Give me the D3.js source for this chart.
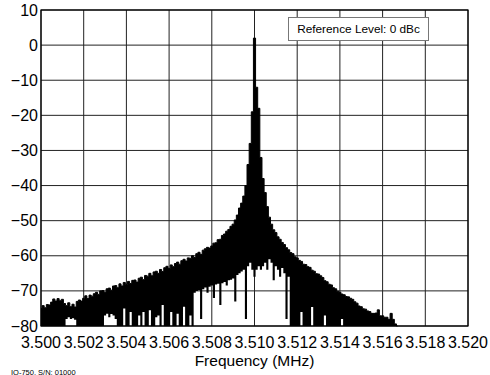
<!DOCTYPE html>
<html>
<head>
<meta charset="utf-8">
<script src="https://cdn.jsdelivr.net/npm/d3@7"></script>
<style>
  html, body { margin: 0; padding: 0; background: #fff; }
  svg { display: block; }
  text { font-family: "Liberation Sans", Arial, Helvetica, sans-serif; fill: #000; }
</style>
</head>
<body>
<svg id="chart" width="490" height="375"></svg>
<script>
// ---- data ----
const xTicks = [3.500, 3.502, 3.504, 3.506, 3.508, 3.510, 3.512, 3.514, 3.516, 3.518, 3.520];
const yTicks = [10, 0, -10, -20, -30, -40, -50, -60, -70, -80];
const freqStart = 3.5000;   // MHz, first sample
const freqStep = 0.0001;    // MHz between samples
// upper edge of the trace at each sample (dBc)
const traceTop = [
  -75.0,-74.2,-74.8,-73.9,-74.0,-73.2,-72.3,-72.9,-72.2,-72.8,-72.4,-73.6,-74.2,-73.4,-74.5,-73.8,-74.6,-73.0,-72.6,-72.9,
  -72.1,-71.4,-72.2,-71.2,-71.5,-70.8,-70.4,-71.0,-70.0,-69.9,-70.4,-69.4,-69.2,-69.8,-68.6,-68.5,-69.1,-68.0,-68.6,-67.6,
  -68.1,-67.3,-67.9,-67.0,-66.9,-67.5,-66.4,-66.1,-66.8,-65.6,-65.8,-65.0,-65.7,-64.6,-64.4,-65.0,-63.9,-64.5,-63.4,-63.0,
  -63.6,-62.6,-63.1,-62.2,-61.8,-62.4,-61.4,-61.0,-61.5,-60.6,-60.7,-60.0,-60.5,-59.4,-59.0,-59.6,-58.4,-58.0,-57.6,-57.8,
  -57.2,-56.4,-56.3,-55.4,-55.3,-54.2,-53.8,-53.0,-52.5,-51.6,-51.0,-49.8,-48.4,-46.4,-45.0,-43.0,-40.0,-34.0,-28.0,-19.0,
  2.0,-12.0,-18.0,-32.0,-38.0,-42.0,-46.0,-49.0,-51.0,-52.6,-53.4,-54.6,-55.3,-56.2,-56.8,-57.7,-58.3,-59.1,-59.4,-60.3,
  -60.6,-61.3,-61.6,-62.4,-62.5,-63.1,-63.3,-64.1,-64.4,-65.1,-65.2,-65.7,-66.2,-67.1,-67.4,-68.1,-68.3,-69.1,-69.4,-70.1,
  -70.4,-70.9,-71.1,-71.6,-71.7,-72.1,-72.4,-73.1,-73.5,-74.3,-74.5,-75.1,-75.2,-75.7,-75.9,-76.4,-76.4,-76.3,-75.4,-77.1,
  -77.1,-77.5,-77.5,-78.1,-76.4,-78.1,-79.4,-80.0
];
// lower edge of the trace at each sample (dBc)
const traceBottom = [
  -80,-80,-80,-80,-80,-80,-80,-80,-80,-80,-80,-80,-78,-77.5,-78,-77.8,-78.2,-80,-80,-80,
  -80,-80,-80,-80,-80,-80,-80,-80,-80,-80,-77,-76.5,-77.5,-76.6,-77,-78,-80,-80,-80,-75,
  -80,-80,-76,-80,-80,-80,-77,-80,-76,-80,-80,-75.5,-80,-80,-77.5,-77,-80,-74,-80,-80,
  -80,-76,-80,-80,-76.5,-80,-80,-74.5,-80,-80,-77,-80,-70.5,-70,-69.8,-78,-69.5,-69,-70.5,-68.8,
  -68.5,-72,-68.2,-68,-74,-67.8,-67.5,-68.5,-67,-66.8,-66.5,-73,-65.5,-65,-64.5,-64,-78,-63,-62,-64,
  -66,-64,-63,-64,-63,-62,-64,-61,-62,-67,-63,-64,-66,-63.5,-65,-78,-66,-80,-80,-80,
  -80,-80,-76,-80,-80,-80,-80,-74.6,-80,-80,-80,-80,-80,-77,-80,-80,-80,-80,-80,-80,
  -80,-78,-80,-80,-80,-80,-80,-80,-80,-80,-80,-80,-80,-80,-80,-80,-80,-80,-80,-80,
  -80,-80,-80,-80,-80,-80,-80,-80
];
const xLabel = "Frequency (MHz)";
const legendText = "Reference Level: 0 dBc";
const footerText = "IQ-750, S/N: 01000";

// ---- layout ----
const svg = d3.select("#chart");
const L = 41, R = 468, T = 10, B = 326;
const x = d3.scaleLinear().domain([3.500, 3.520]).range([L, R]);
const y = d3.scaleLinear().domain([-80, 10]).range([B, T]);

svg.append("rect").attr("width", 490).attr("height", 375).attr("fill", "#fff");

// grid
const grid = svg.append("g");
grid.selectAll("line.v").data(xTicks).join("line")
  .attr("x1", d => x(d)).attr("x2", d => x(d)).attr("y1", T).attr("y2", B)
  .attr("stroke", "#222").attr("stroke-width", 1);
grid.selectAll("line.h").data(yTicks).join("line")
  .attr("x1", L).attr("x2", R).attr("y1", d => y(d)).attr("y2", d => y(d))
  .attr("stroke", "#222").attr("stroke-width", 1);

// trace
const samples = traceTop.map((t, i) => ({ f: freqStart + i * freqStep, top: t, bot: traceBottom[i] }));
const area = d3.area()
  .x(d => x(d.f)).y0(d => y(d.bot)).y1(d => y(d.top))
  .curve(d3.curveStep);
svg.append("path").datum(samples).attr("d", area).attr("fill", "#000");
const topLine = d3.line().x(d => x(d.f)).y(d => y(d.top)).curve(d3.curveStep);
svg.append("path").datum(samples).attr("d", topLine)
  .attr("fill", "none").attr("stroke", "#000").attr("stroke-width", 1);

// frame
svg.append("rect").attr("x", L).attr("y", T).attr("width", R - L).attr("height", B - T)
  .attr("fill", "none").attr("stroke", "#000").attr("stroke-width", 1.2);

// axes labels
const fmtY = d3.format("d");
svg.append("g").selectAll("text").data(yTicks).join("text")
  .attr("x", L - 3).attr("y", d => y(d) + 5.5)
  .attr("text-anchor", "end").attr("font-size", 16)
  .text(d => fmtY(d));
svg.append("g").selectAll("text").data(xTicks).join("text")
  .attr("x", d => x(d)).attr("y", 348)
  .attr("text-anchor", "middle").attr("font-size", 16)
  .text(d => d3.format(".3f")(d));
svg.append("text").attr("x", (L + R) / 2).attr("y", 366)
  .attr("text-anchor", "middle").attr("font-size", 15.5).text(xLabel);

// legend box
svg.append("rect").attr("x", 288.5).attr("y", 17.5).attr("width", 140).attr("height", 23)
  .attr("fill", "#fff").attr("stroke", "#777").attr("stroke-width", 1);
svg.append("text").attr("x", 358.5).attr("y", 33.2).attr("text-anchor", "middle")
  .attr("font-size", 11.8).text(legendText);

// footer
svg.append("text").attr("x", 11).attr("y", 374.5).attr("font-size", 7.5).text(footerText);
</script>
</body>
</html>
